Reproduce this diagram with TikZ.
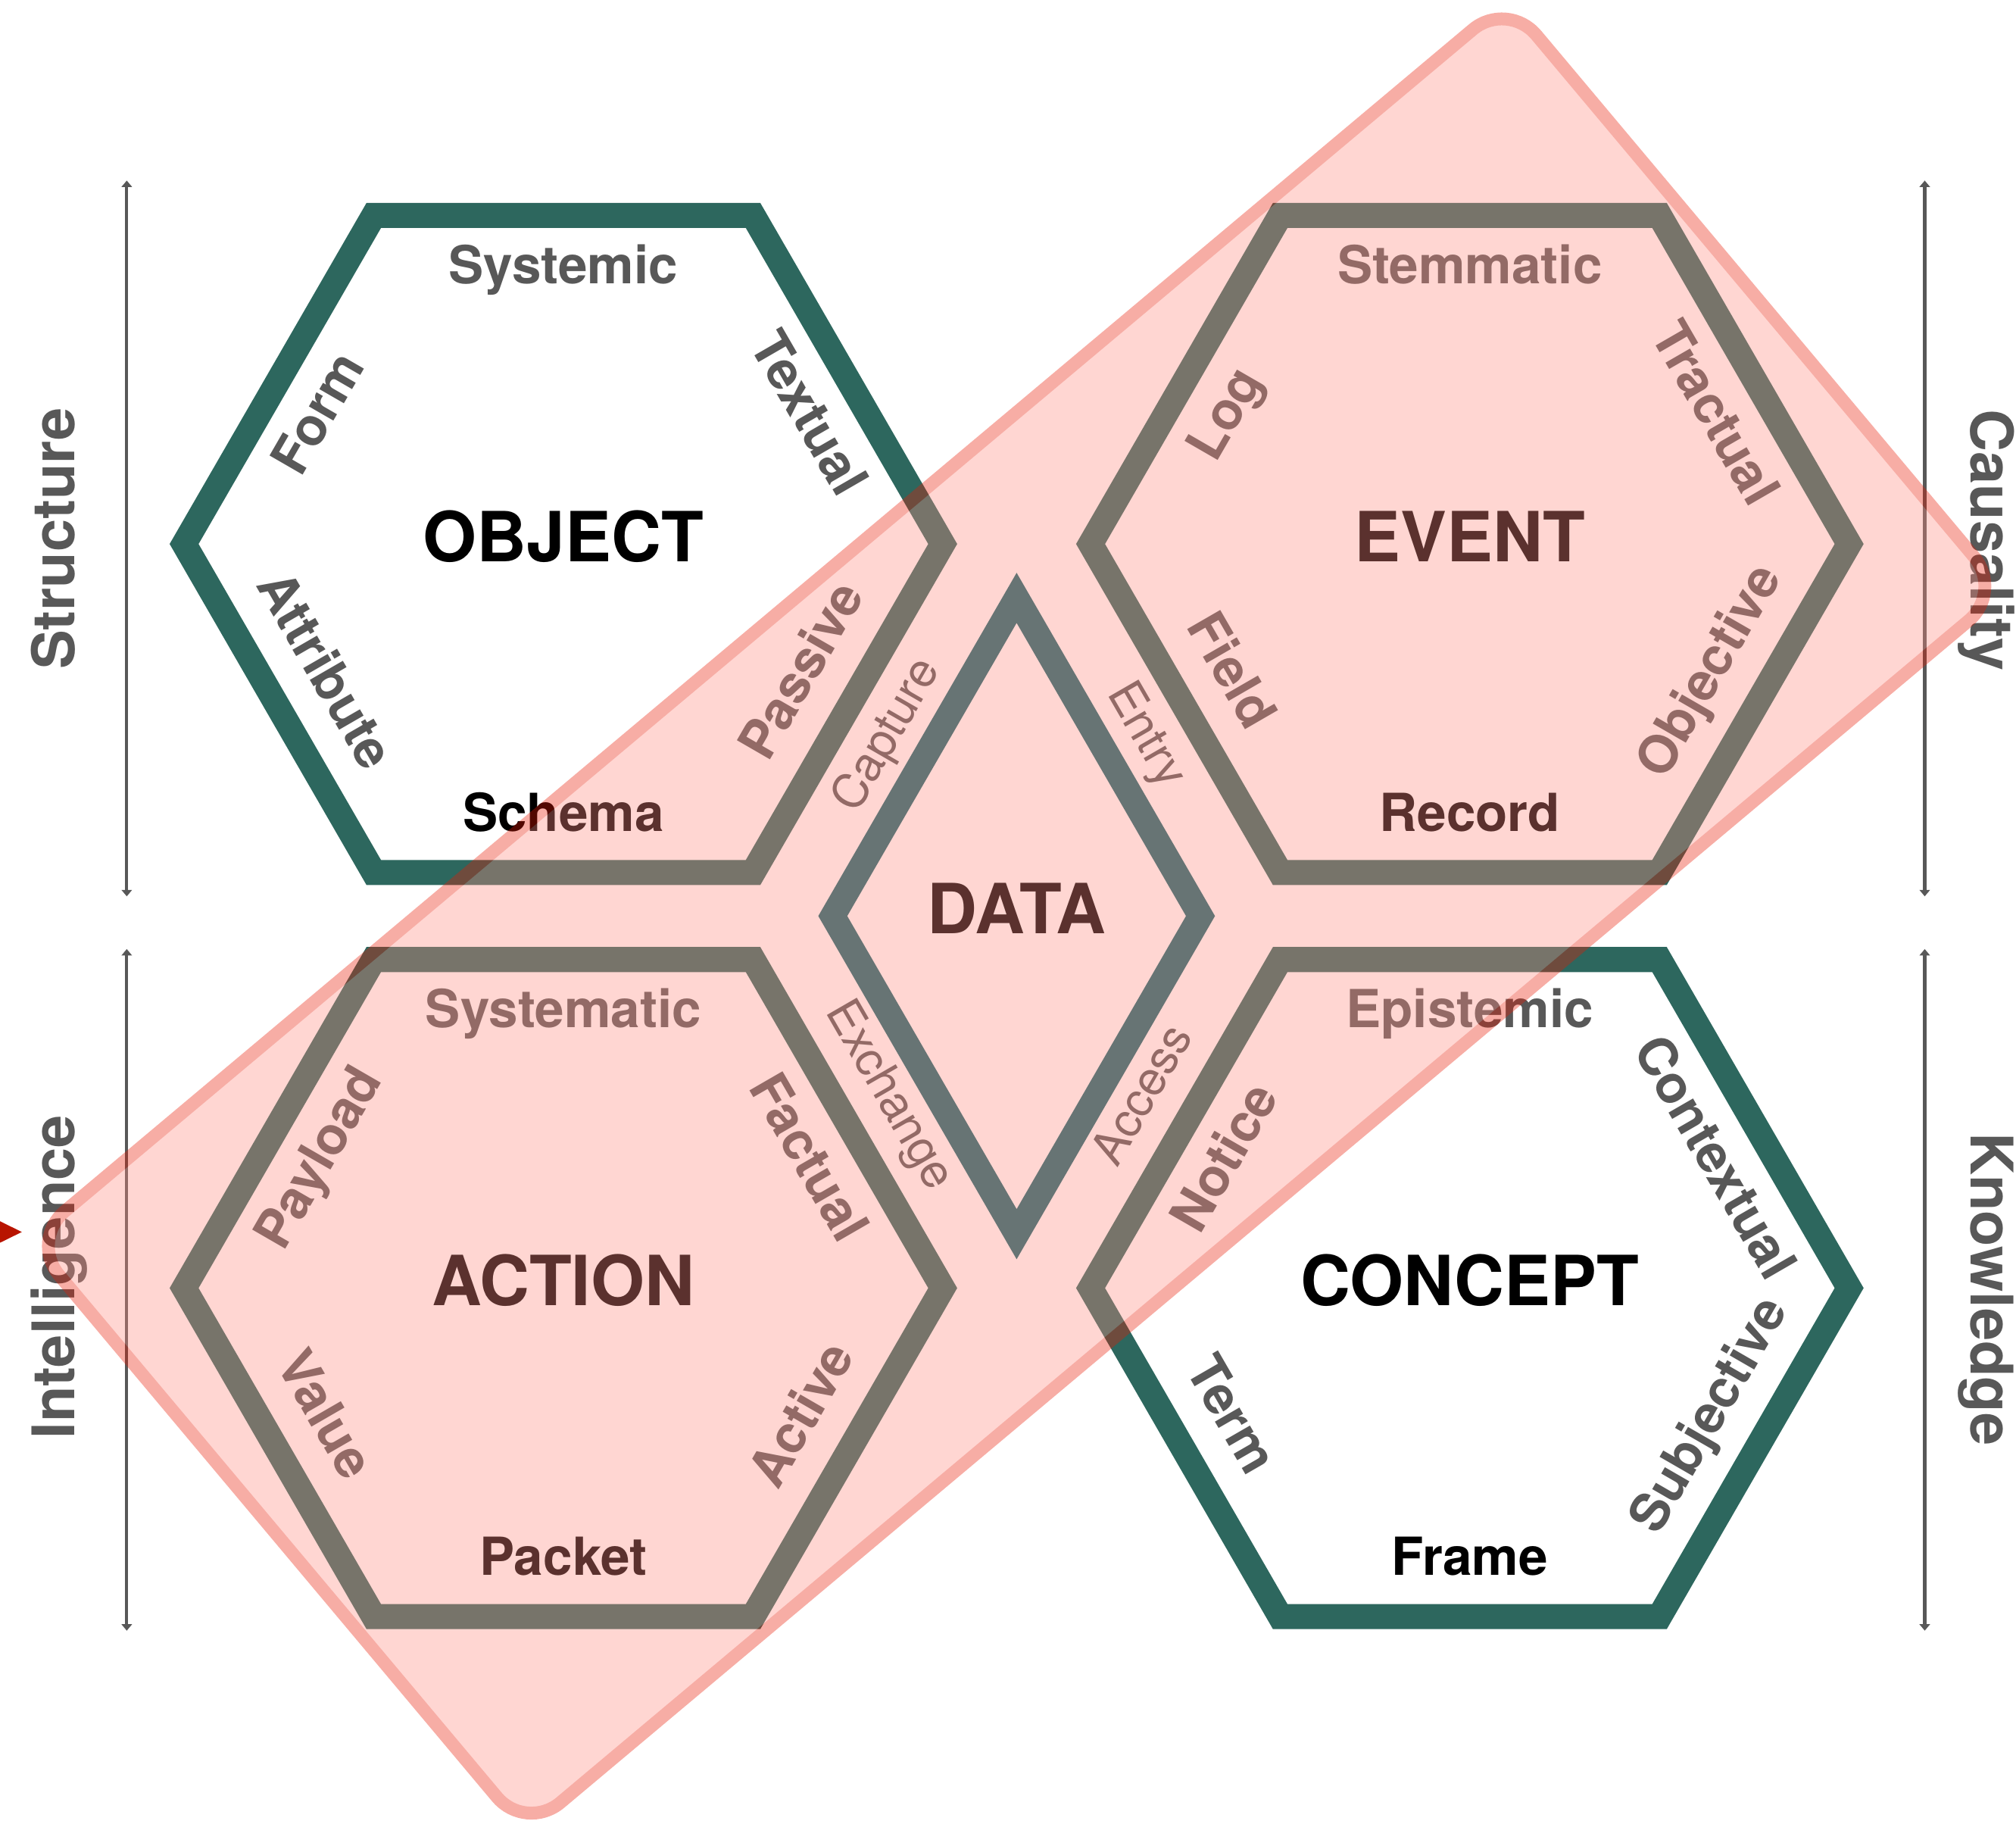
\documentclass[tikz,border=0pt]{standalone}
\usepackage{fontspec}
\setmainfont{TeX Gyre Heros}
\usetikzlibrary{arrows.meta,calc}

\definecolor{hexgruen}{RGB}{45,103,94}
\definecolor{rautenblau}{RGB}{19,103,109}
\definecolor{textgrau}{RGB}{88,88,88}
\definecolor{bandrot}{RGB}{255,140,129}
\definecolor{bandrand}{RGB}{232,25,3}
\definecolor{zeigerrot}{RGB}{184,20,0}

\begin{document}
\begin{tikzpicture}[
    hexlinie/.style={draw=hexgruen, line width=0.195cm},
    rautenlinie/.style={draw=rautenblau, line width=0.195cm},
    titel/.style={font=\fontsize{15.3}{18}\selectfont\bfseries, inner sep=0, text height=11pt, text depth=3.2pt},
    kante/.style={font=\fontsize{11.6}{14}\selectfont\bfseries, text=textgrau, inner sep=0, text height=8.4pt, text depth=2.4pt},
    fluss/.style={font=\fontsize{10.5}{12}\selectfont, text=textgrau, inner sep=0, text height=7.6pt, text depth=2.2pt},
    seite/.style={font=\fontsize{13}{15}\selectfont\bfseries, text=textgrau, inner sep=0, anchor=base},
    achse/.style={draw=textgrau, line width=0.024cm, arrows={Triangle[width=0.08cm,length=0.05cm]-Triangle[width=0.08cm,length=0.05cm]}},
    band/.style={draw=bandrand, fill=bandrot, line width=0.1cm, rounded corners=0.35cm, minimum width=15cm, minimum height=6cm, inner sep=0, rotate=40},
    zeigerpfeil/.style={draw=zeigerrot, line width=0.02cm, -{Triangle[length=0.3cm,width=0.29cm]}}
]
    \useasboundingbox (0,0) rectangle (15.68,14.16);

    % Knoten.
    \node[titel] (object) at (4.382,9.93) {OBJECT};
    \node[titel] (event) at (11.432,9.93) {EVENT};
    \node[titel] (action) at (4.382,4.144) {ACTION};
    \node[titel] (concept) at (11.432,4.144) {CONCEPT};
    \node[titel] (data) at (7.907,7.037) {DATA};

    % Sechsecke.
    \foreach \hx/\oben/\ro/\ru/\unten/\lu/\lo in {object/Systemic/Textual/Passive/Schema/Attribute/Form,
        event/Stemmatic/Tractual/Objective/Record/Field/Log,
        action/Systematic/Factual/Active/Packet/Value/Payload,
        concept/Epistemic/Contextual/Subjective/Frame/Term/Notice}
    {
        \draw[hexlinie] (\hx.center) +(0:2.95) -- +(60:2.95) -- +(120:2.95) -- +(180:2.95) -- +(240:2.95) -- +(300:2.95) -- cycle;
        \node[kante] (\hx-o) at ($(\hx)+(90:2.13)$) {\oben};
        \node[kante, rotate=-60] (\hx-ro) at ($(\hx)+(28:2.13)$) {\ro};
        \node[kante, rotate=60] (\hx-ru) at ($(\hx)+(-28:2.13)$) {\ru};
        \node[kante, text=black] (\hx-u) at ($(\hx)+(-90:2.13)$) {\unten};
        \node[kante, rotate=-60] (\hx-lu) at ($(\hx)+(208:2.13)$) {\lu};
        \node[kante, rotate=60] (\hx-lo) at ($(\hx)+(152:2.13)$) {\lo};
    }

    % Raute.
    \draw[rautenlinie] (data.center) +(0:1.43) -- +(90:2.474) -- +(180:1.43) -- +(270:2.474) -- cycle;
    \node[fluss, rotate=60] (capture) at ($(data)+(125.5:1.72)$) {Capture};
    \node[fluss, rotate=-60] (entry) at ($(data)+(54.5:1.72)$) {Entry};
    \node[fluss, rotate=-60] (exchange) at ($(data)+(234.5:1.72)$) {Exchange};
    \node[fluss, rotate=60] (access) at ($(data)+(-54.5:1.72)$) {Access};

    % Seiten.
    \node[seite, rotate=90] (structure) at (0.58,9.97) {Structure};
    \node[seite, rotate=90] (intelligence) at (0.58,4.23) {Intelligence};
    \node[seite, rotate=-90] (causality) at (15.33,9.96) {Causality};
    \node[seite, rotate=-90] (knowledge) at (15.33,4.135) {Knowledge};

    \coordinate (lo1) at (0.986,12.756);
    \coordinate (lo2) at (0.986,7.19);
    \coordinate (lu1) at (0.986,6.78);
    \coordinate (lu2) at (0.986,1.48);
    \coordinate (ro1) at (14.97,12.756);
    \coordinate (ro2) at (14.97,7.19);
    \coordinate (ru1) at (14.97,6.78);
    \coordinate (ru2) at (14.97,1.48);
    \draw[achse] (lo1) -- (lo2);
    \draw[achse] (lu1) -- (lu2);
    \draw[achse] (ro1) -- (ro2);
    \draw[achse] (ru1) -- (ru2);

    % Band.
    \begin{scope}[transparency group, opacity=0.357]
        \node[band] (streifen) at (data.center) {};
    \end{scope}

    % Zeiger.
    \coordinate (zeigerstart) at (-1,4.58);
    \coordinate (zeiger) at (0.17,4.58);
    \draw[zeigerpfeil] (zeigerstart) -- (zeiger);
\end{tikzpicture}
\end{document}
